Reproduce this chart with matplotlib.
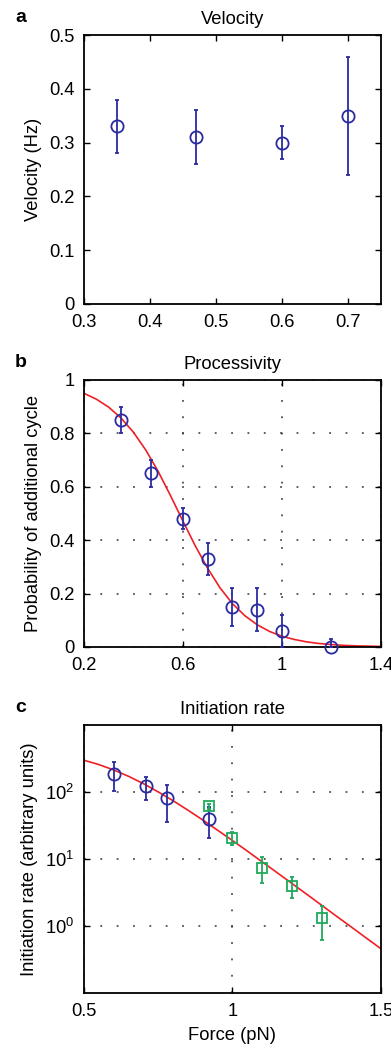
import numpy as np
import matplotlib
matplotlib.use("Agg")
import matplotlib.pyplot as plt
from matplotlib.ticker import FixedLocator, NullLocator

plt.rcParams['font.family'] = ['Liberation Sans', 'DejaVu Sans']
plt.rcParams['mathtext.fontset'] = 'custom'
plt.rcParams['mathtext.rm'] = 'Liberation Sans'

# panel a: velocity
vel_force = [0.35, 0.47, 0.60, 0.70]
vel = [0.33, 0.31, 0.30, 0.35]
vel_lo = [0.28, 0.26, 0.27, 0.24]
vel_hi = [0.38, 0.36, 0.33, 0.46]

# panel b: processivity
proc_force = [0.35, 0.47, 0.60, 0.70, 0.80, 0.90, 1.00, 1.20]
proc = [0.85, 0.65, 0.48, 0.33, 0.15, 0.14, 0.06, 0.00]
proc_lo = [0.80, 0.60, 0.44, 0.27, 0.08, 0.06, 0.00, 0.00]
proc_hi = [0.90, 0.70, 0.52, 0.39, 0.22, 0.22, 0.12, 0.03]

proc_fit_x = [0.20, 0.25, 0.30, 0.35, 0.40, 0.45, 0.50, 0.55, 0.60, 0.65, 0.70, 0.75, 0.80,
              0.85, 0.90, 0.95, 1.00, 1.05, 1.10, 1.15, 1.20, 1.25, 1.30, 1.35, 1.40]
proc_fit = [0.950, 0.928, 0.898, 0.857, 0.804, 0.737, 0.657, 0.566, 0.471, 0.378, 0.294, 0.221, 0.162,
            0.117, 0.083, 0.058, 0.040, 0.028, 0.019, 0.013, 0.009, 0.006, 0.004, 0.003, 0.002]

# panel c: initiation rate
init_force_c = [0.60, 0.71, 0.78, 0.92]
init_c = [188, 122, 80, 40]
init_c_lo = [103, 75, 35, 20.6]
init_c_hi = [280, 169, 129, 59]

init_force_s = [0.92, 1.00, 1.10, 1.20, 1.30]
init_s = [61, 20.3, 7.4, 3.9, 1.33]
init_s_lo = [55, 16.4, 4.3, 2.6, 0.62]
init_s_hi = [67, 25, 10.7, 5.4, 2.0]

init_fit_x = [0.50, 0.55, 0.60, 0.65, 0.70, 0.75, 0.80, 0.85, 0.90, 0.95, 1.00,
              1.05, 1.10, 1.15, 1.20, 1.25, 1.30, 1.35, 1.40, 1.45, 1.50]
init_fit = [297, 256, 213, 171, 133, 100, 73.9, 53.4, 38.1, 26.8, 18.8,
            13.1, 9.04, 6.25, 4.31, 2.97, 2.04, 1.40, 0.965, 0.663, 0.456]

blue = '#2b2ba0'
green = '#1faa5c'
red = '#ee2026'
fs = 13.2


def yerr(y, lo, hi):
    y = np.array(y)
    return [y - np.array(lo), np.array(hi) - y]


def style(ax):
    ax.tick_params(direction='in', top=True, right=True, length=4, width=1,
                   labelsize=fs)
    ax.tick_params(axis='y', pad=7)
    ax.tick_params(axis='x', pad=7)
    for s in ax.spines.values():
        s.set_linewidth(1.3)


def errpts(ax, x, y, lo, hi, color, marker, ms):
    ax.errorbar(x, y, yerr=yerr(y, lo, hi), fmt=marker, color=color, mfc='none',
                mec=color, ms=ms, mew=1.3, elinewidth=1.3, capsize=1.6, capthick=1.3,
                zorder=3)


fig = plt.figure(figsize=(3.91, 10.45), dpi=100)
ax1 = fig.add_axes([0.2148, 0.7091, 0.7596, 0.2574])
ax2 = fig.add_axes([0.2148, 0.3809, 0.7596, 0.2555])
ax3 = fig.add_axes([0.2148, 0.0498, 0.7596, 0.2565])

grid_kw = dict(color='#333333', linestyle=(0, (1.2, 9.5)), linewidth=1.1)

# a
errpts(ax1, vel_force, vel, vel_lo, vel_hi, blue, 'o', 8.8)
ax1.set_xlim(0.3, 0.75)
ax1.set_ylim(0, 0.5)
ax1.set_xticks([0.3, 0.4, 0.5, 0.6, 0.7])
ax1.set_xticklabels(['0.3', '0.4', '0.5', '0.6', '0.7'])
ax1.set_yticks([0, 0.1, 0.2, 0.3, 0.4, 0.5])
ax1.set_yticklabels(['0', '0.1', '0.2', '0.3', '0.4', '0.5'])
ax1.set_ylabel('Velocity (Hz)', fontsize=fs, labelpad=5)
ax1.set_title('Velocity', fontsize=fs, pad=8)
style(ax1)

# b
ax2.plot(proc_fit_x, proc_fit, color=red, lw=1.2, zorder=2)
errpts(ax2, proc_force, proc, proc_lo, proc_hi, blue, 'o', 8.8)
for ln in ax2.get_children():
    if isinstance(ln, matplotlib.lines.Line2D) and ln.get_marker() == 'o':
        ln.set_clip_on(False)
ax2.set_xlim(0.2, 1.4)
ax2.set_ylim(0, 1)
ax2.set_xticks([0.2, 0.6, 1.0, 1.4])
ax2.set_xticklabels(['0.2', '0.6', '1', '1.4'])
ax2.set_yticks([0, 0.2, 0.4, 0.6, 0.8, 1.0])
ax2.set_yticklabels(['0', '0.2', '0.4', '0.6', '0.8', '1'])
ax2.grid(True, **grid_kw)
ax2.set_ylabel('Probability of additional cycle', fontsize=fs, labelpad=5)
ax2.set_title('Processivity', fontsize=fs, pad=8)
style(ax2)

# c
ax3.set_yscale('log')
ax3.plot(init_fit_x, init_fit, color=red, lw=1.2, zorder=2)
errpts(ax3, init_force_c, init_c, init_c_lo, init_c_hi, blue, 'o', 8.8)
errpts(ax3, init_force_s, init_s, init_s_lo, init_s_hi, green, 's', 7.8)
ax3.set_xlim(0.5, 1.5)
ax3.set_ylim(0.1, 1000)
ax3.set_xticks([0.5, 1.0, 1.5])
ax3.set_xticklabels(['0.5', '1', '1.5'])
ax3.yaxis.set_major_locator(FixedLocator([1, 10, 100]))
ax3.yaxis.set_minor_locator(NullLocator())
ax3.set_yticklabels([r'$10^0$', r'$10^1$', r'$10^2$'])
ax3.grid(True, **grid_kw)
ax3.set_xlabel('Force (pN)', fontsize=fs, labelpad=5)
ax3.set_ylabel('Initiation rate (arbitrary units)', fontsize=fs, labelpad=5)
ax3.set_title('Initiation rate', fontsize=fs, pad=8)
style(ax3)

for ax, lab in [(ax1, 'a'), (ax2, 'b'), (ax3, 'c')]:
    ax.text(-0.232, 1.05, lab, transform=ax.transAxes, fontsize=14, fontweight='bold',
            ha='left', va='baseline')

fig.savefig('out.png', dpi=100)
